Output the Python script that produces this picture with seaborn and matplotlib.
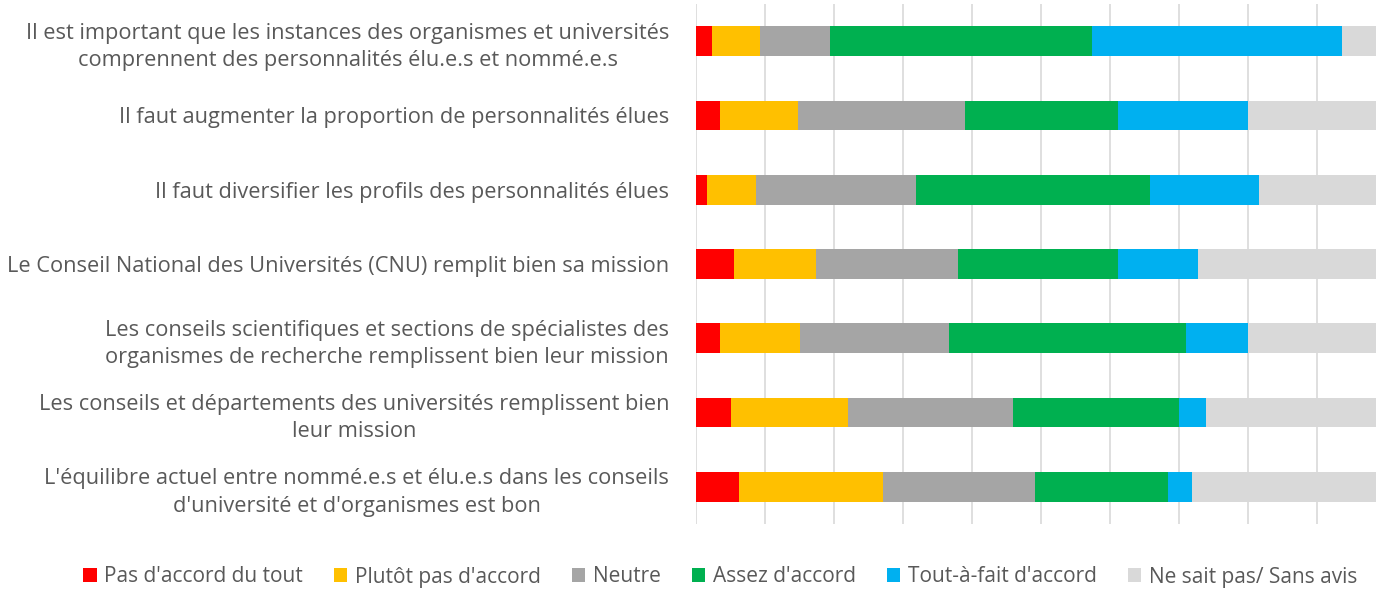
import numpy as np
import pandas as pd
import seaborn as sns
import matplotlib.pyplot as plt
from matplotlib.patches import Patch

# questions (top to bottom)
questions = [
    "Il est important que les instances des organismes et universités\ncomprennent des personnalités élu.e.s et nommé.e.s",
    "Il faut augmenter la proportion de personnalités élues",
    "Il faut diversifier les profils des personnalités élues",
    "Le Conseil National des Universités (CNU) remplit bien sa mission",
    "Les conseils scientifiques et sections de spécialistes des\norganismes de recherche remplissent bien leur mission",
    "Les conseils et départements des universités remplissent bien\nleur mission",
    "L'équilibre actuel entre nommé.e.s et élu.e.s dans les conseils\nd'université et d'organismes est bon",
]

answers = ["Pas d'accord du tout", "Plutôt pas d'accord", "Neutre",
           "Assez d'accord", "Tout-à-fait d'accord", "Ne sait pas/ Sans avis"]
colors = ["#FF0000", "#FFC000", "#A5A5A5", "#00B050", "#00B0F0", "#D9D9D9"]

# percentages
pas_du_tout = [2.4, 3.5, 1.7, 5.5, 3.5, 5.1, 6.3]
plutot_pas = [7.0, 11.3, 7.0, 11.9, 11.6, 17.0, 20.9]
neutre = [10.1, 24.3, 23.2, 20.6, 21.6, 23.9, 22.0]
assez = [37.9, 22.1, 34.0, 23.2, 34.4, 24.1, 19.3]
tout_a_fait = [36.3, 18.9, 15.8, 11.6, 8.9, 3.9, 3.5]
sans_avis = [6.3, 19.9, 18.3, 27.2, 20.0, 26.0, 28.0]

df = pd.DataFrame({
    "question": questions,
    answers[0]: pas_du_tout,
    answers[1]: plutot_pas,
    answers[2]: neutre,
    answers[3]: assez,
    answers[4]: tout_a_fait,
    answers[5]: sans_avis,
})
cum = df[answers].cumsum(axis=1)

text_col = "#595959"
plt.rcParams['font.family'] = ['Open Sans', 'DejaVu Sans']

fig = plt.figure(figsize=(13.76, 5.89), dpi=100)
ax = fig.add_axes([695.6 / 1376, 65 / 589, 690 / 1376, 520 / 589])

# stacked bars: draw cumulative totals from the last answer back to the first
for ans, col in zip(answers[::-1], colors[::-1]):
    sns.barplot(x=cum[ans], y=df["question"], orient="h", color=col,
                width=0.4, saturation=1, ax=ax, linewidth=0)

ax.set_xlim(0, 100)
ax.set_xticks(np.arange(0, 101, 10))
ax.set_xticklabels([])
ax.tick_params(axis="x", length=0)
ax.tick_params(axis="y", length=0, pad=19, labelsize=15.7, labelcolor=text_col)
for lbl in ax.get_yticklabels():
    lbl.set_multialignment("center")
    lbl.set_linespacing(1.4)
ax.xaxis.grid(True, color="#D9D9D9", linewidth=1.2)
ax.set_axisbelow(True)
for s in ax.spines.values():
    s.set_visible(False)
ax.set_xlabel("")
ax.set_ylabel("")

handles = [Patch(facecolor=c, edgecolor="none") for c in colors]
fig.legend(handles, answers, loc="center", bbox_to_anchor=(720 / 1376, 12 / 589),
           ncol=6, frameon=False, fontsize=15, labelcolor=text_col,
           handlelength=0.65, handleheight=0.65, handletextpad=0.35, columnspacing=1.5)

fig.savefig("out.png", dpi=100)
